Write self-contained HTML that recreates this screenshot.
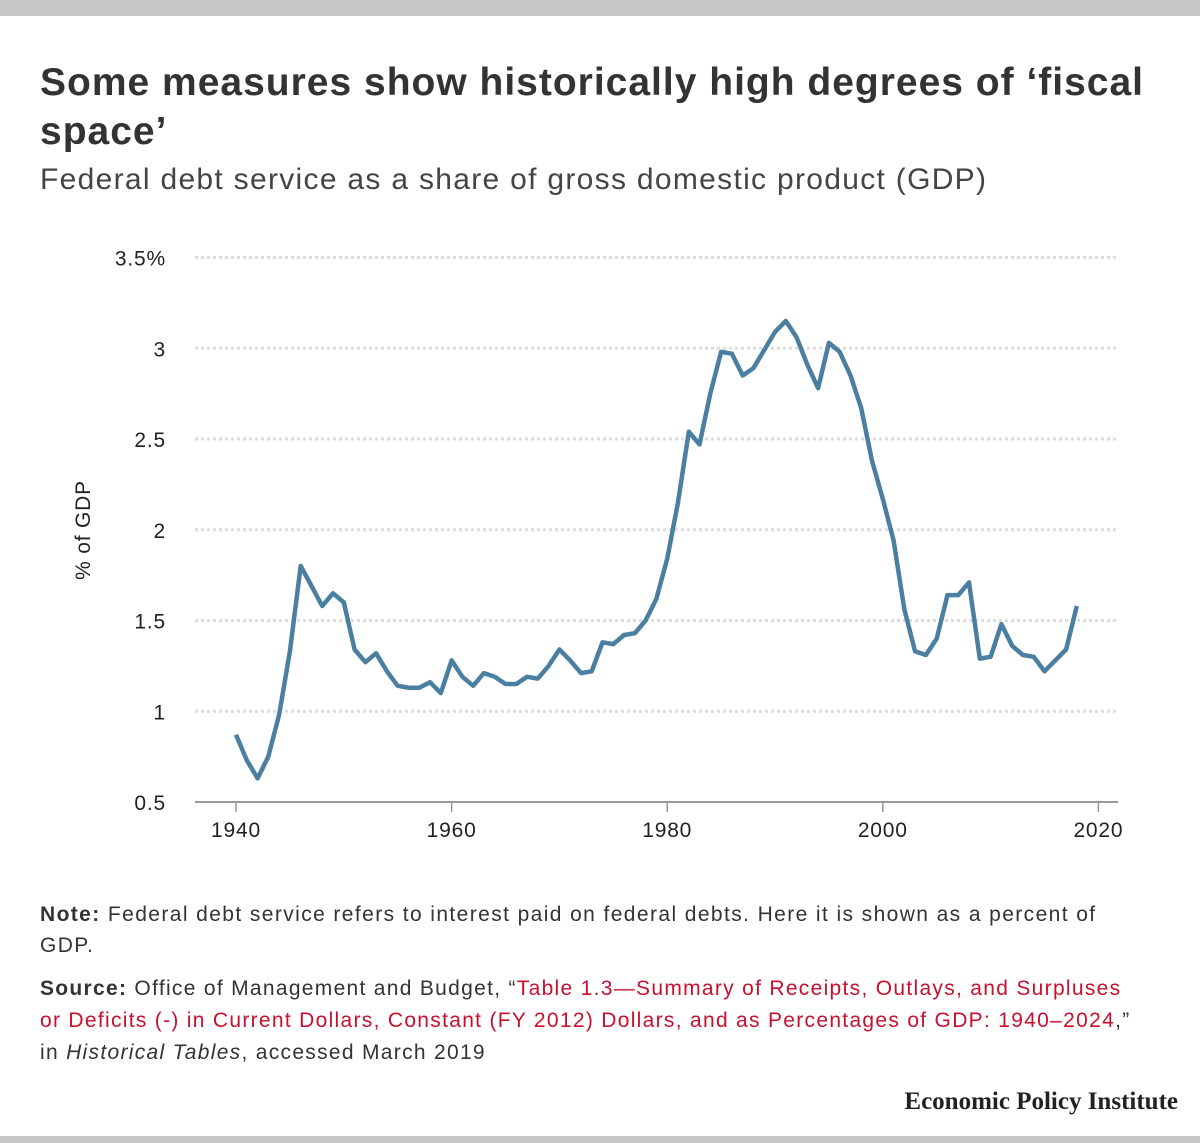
<!DOCTYPE html>
<html><head><meta charset="utf-8"><style>
body{margin:0;width:1200px;height:1143px;background:#fff;position:relative;font-family:"Liberation Sans",sans-serif;overflow:hidden}
.bar{position:absolute;left:0;width:1200px;background:#c6c6c6}
.t{position:absolute;color:#333}
</style></head><body>
<div class="bar" style="top:0;height:16px"></div>
<div class="bar" style="top:1136px;height:7px"></div>
<div class="t" style="left:40px;top:58px;width:1140px;font-size:39px;letter-spacing:1px;font-weight:bold;line-height:49px;color:#333">Some measures show historically high degrees of ‘fiscal space’</div>
<div class="t" style="left:40px;top:163px;font-size:30px;letter-spacing:1.3px;color:#444">Federal debt service as a share of gross domestic product (GDP)</div>
<svg width="1200" height="880" style="position:absolute;left:0;top:0">
<g id="grid"></g><g id="axis"></g>
<path id="line" fill="none" stroke="#4b7fa1" stroke-width="4.5" stroke-linejoin="round"/>
<text transform="translate(90,530) rotate(-90)" text-anchor="middle" font-size="21" letter-spacing="0.8" fill="#222" font-family="Liberation Sans,sans-serif">% of GDP</text>
</svg>
<div class="t" style="left:40px;top:899px;width:1100px;font-size:21px;letter-spacing:1.4px;line-height:31px;color:#333"><b>Note:</b> Federal debt service refers to interest paid on federal debts. Here it is shown as a percent of GDP.</div>
<div class="t" style="left:40px;top:973px;width:1105px;font-size:21px;letter-spacing:1.3px;line-height:32px;color:#333"><b>Source:</b> Office of Management and Budget, “<span style="color:#c8102e">Table 1.3—Summary of Receipts, Outlays, and Surpluses or Deficits (-) in Current Dollars, Constant (FY 2012) Dollars, and as Percentages of GDP: 1940–2024</span>,” in <i>Historical Tables</i>, accessed March 2019</div>
<div class="t" style="right:22px;top:1088px;font-family:'Liberation Serif',serif;font-weight:bold;font-size:25px;color:#222">Economic Policy Institute</div>
<script>
const years=[];for(let y=1940;y<=2018;y++)years.push(y);
const values=[0.87,0.73,0.63,0.75,0.98,1.33,1.80,1.69,1.58,1.65,1.60,1.34,1.27,1.32,1.22,1.14,1.13,1.13,1.16,1.10,
1.28,1.19,1.14,1.21,1.19,1.15,1.15,1.19,1.18,1.25,1.34,1.28,1.21,1.22,1.38,1.37,1.42,1.43,1.50,1.62,
1.84,2.15,2.54,2.47,2.75,2.98,2.97,2.85,2.89,2.99,3.09,3.15,3.06,2.91,2.78,3.03,2.98,2.85,2.67,2.38,
2.17,1.94,1.56,1.33,1.31,1.40,1.64,1.64,1.71,1.29,1.30,1.48,1.36,1.31,1.30,1.22,1.28,1.34,1.58];
const yTicks=[0.5,1,1.5,2,2.5,3,3.5];
const yLabels=["0.5","1","1.5","2","2.5","3","3.5%"];
const xTicks=[1940,1960,1980,2000,2020];
const X=v=>236+(v-1940)*10.78;
const Y=v=>802-(v-0.5)*181.5;
const NS="http://www.w3.org/2000/svg";
const grid=document.getElementById('grid'),axis=document.getElementById('axis');
function mk(tag,a,p){const e=document.createElementNS(NS,tag);for(const k in a)e.setAttribute(k,a[k]);p.appendChild(e);return e;}
yTicks.forEach((t,i)=>{
 if(i>0){const l=mk('line',{x1:195,x2:1118,y1:Y(t),y2:Y(t),stroke:'#dcdcdc','stroke-width':3,'stroke-dasharray':'3 3'},grid);
 
 }
 const tx=mk('text',{x:166,y:Y(t)+8,'text-anchor':'end','font-size':21,'letter-spacing':0.8,fill:'#222','font-family':'Liberation Sans,sans-serif'},axis);
 tx.textContent=yLabels[i];
 
 
});
const base=mk('line',{x1:195,x2:1118,y1:802,y2:802,stroke:'#999','stroke-width':2},axis);


xTicks.forEach(t=>{
 mk('line',{x1:X(t),x2:X(t),y1:802,y2:812,stroke:'#999','stroke-width':1.5},axis);
 const tx=mk('text',{x:X(t),y:837,'text-anchor':'middle','font-size':21,'letter-spacing':0.8,fill:'#222','font-family':'Liberation Sans,sans-serif'},axis);
 tx.textContent=t;
 
 
});
document.getElementById('line').setAttribute('d',values.map((v,i)=>(i?'L':'M')+X(years[i]).toFixed(1)+','+Y(v).toFixed(1)).join(''));
</script>
</body></html>
